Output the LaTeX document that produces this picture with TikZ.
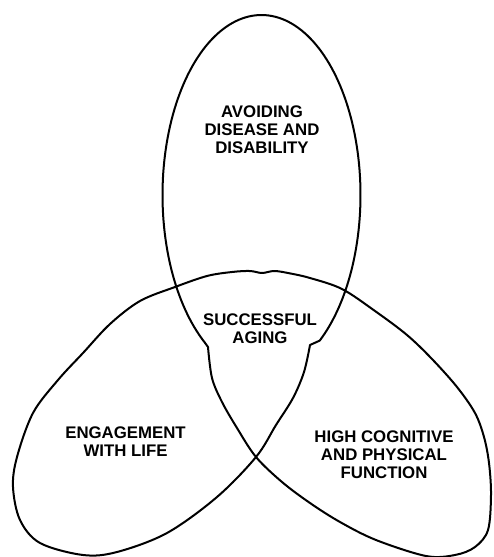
\documentclass[tikz,border=0pt]{standalone}
\usepackage{fontspec}
\setmainfont{Liberation Sans}
\begin{document}
\begin{tikzpicture}[x=1pt,y=-1pt,
  outline/.style={line width=2pt, line join=round, line cap=round},
  txt/.style={font=\fontsize{16.8}{18}\selectfont\bfseries, align=center, inner sep=0pt}]
\fill[white] (0,0) rectangle (493,557);
\useasboundingbox (0,0) rectangle (493,557);
% outline: top ellipse arc, then the two lower ellipses traced as one curve
\draw[outline] plot[domain=-54:235, samples=150, variable=\t] ({261.5+99*cos(\t)}, {195-180*sin(\t)})
  -- plot[smooth, tension=0.55] coordinates {
   (208,347) (212,378) (222,402) (237,428) (256,457) (282,482) (310,503)
   (340,522) (376,540) (426,556) (455,555) (475,547) (488,530) (491,495) (489,463)
   (484,437) (475,413) (457,387) (432,359) (407,335) (375,311) (342,289) (310,278)
   (288,273) (274,271) (262,273) (250,271) (232,272) (207,276) (175,287) (140,301)
   (110,324) (83,353) (58,380) (33,413) (17,457) (13,487) (20,520) (40,543)
   (83,555) (117,552) (167,533) (217,497) (256,457) (276,425) (293,398) (304,372)
   (310,345)} -- cycle;
\node[txt] (avoid) at (262,129.5) {AVOIDING\\DISEASE AND\\DISABILITY};
\node[txt] (success) at (260,329) {SUCCESSFUL\\AGING};
\node[txt] (engage) at (125.5,441.5) {ENGAGEMENT\\WITH LIFE};
\node[txt] (high) at (384,454.5) {HIGH COGNITIVE\\AND PHYSICAL\\FUNCTION};
\end{tikzpicture}
\end{document}
